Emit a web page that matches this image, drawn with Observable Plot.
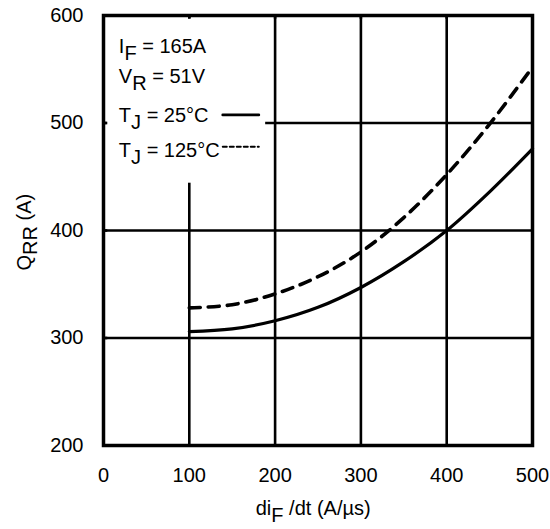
<!DOCTYPE html>
<html><head><meta charset="utf-8">
<script src="https://cdn.jsdelivr.net/npm/d3@7"></script>
<script src="https://cdn.jsdelivr.net/npm/@observablehq/plot@0.6"></script>
<style>
body{margin:0;background:#fff;}
svg text{font-family:"Liberation Sans",Arial,Helvetica,sans-serif;}
</style>
</head><body><div id="chart"></div>
<script>
// data
const diF = [100, 150, 200, 250, 300, 350, 400, 450, 500];
const qrr25 = [306, 308.5, 316, 328.5, 347, 371, 400, 436, 476];
const qrr125 = [328, 331, 341, 357, 380, 412, 452, 499, 552];
const xTicks = [0, 100, 200, 300, 400, 500];
const yTicks = [200, 300, 400, 500, 600];
const gridX = [100, 200, 300, 400];
const gridY = [300, 400, 500];
const legendMain = ["I", "V", "T", "T"];
const legendSub = ["F", "R", "J", "J"];
const legendRest = [" = 165A", " = 51V", " = 25°C", " = 125°C"];
const legendY = [565, 536.5, 500.5, 468];   // baselines in data units
const legendBox = {x1: 4, x2: 189, y1: 444, y2: 597};
const legendLineX = [139, 181];
const legendLineY25 = 507.5, legendLineY125 = 478;

const s25 = diF.map((d, i) => ({x: d, y: qrr25[i]}));
const s125 = diF.map((d, i) => ({x: d, y: qrr125[i]}));

const plot = Plot.plot({
  width: 550, height: 529,
  marginLeft: 103, marginRight: 18, marginTop: 15, marginBottom: 84,
  style: {fontSize: "20px", fontFamily: "'Liberation Sans', Arial, sans-serif", color: "#000", background: "#fff"},
  x: {domain: [0, 500]},
  y: {domain: [200, 600]},
  marks: [
    Plot.ruleX(gridX, {stroke: "#000", strokeWidth: 2.6, strokeOpacity: 1}),
    Plot.ruleY(gridY, {stroke: "#000", strokeWidth: 2.6, strokeOpacity: 1}),
    Plot.rect([legendBox], {x1: "x1", x2: "x2", y1: "y1", y2: "y2", fill: "#fff"}),
    Plot.ruleX(gridX, {y1: 600, y2: 596.5, stroke: "#000", strokeWidth: 2.6}),
    Plot.ruleY(gridY, {x1: 0, x2: 5, stroke: "#000", strokeWidth: 2.6}),
    Plot.line(s25, {x: "x", y: "y", stroke: "#000", strokeWidth: 3.2, curve: "catmull-rom"}),
    Plot.line(s125, {x: "x", y: "y", stroke: "#000", strokeWidth: 3.6, strokeDasharray: "11,8", curve: "catmull-rom"}),
    Plot.line([{x: legendLineX[0], y: legendLineY25}, {x: legendLineX[1], y: legendLineY25}], {x: "x", y: "y", stroke: "#000", strokeWidth: 2.8}),
    Plot.line([{x: legendLineX[0], y: legendLineY125}, {x: legendLineX[1], y: legendLineY125}], {x: "x", y: "y", stroke: "#000", strokeWidth: 2, strokeDasharray: "4,3"}),
    Plot.frame({stroke: "#000", strokeWidth: 3.5}),
    Plot.axisX(xTicks, {tickSize: 0, tickPadding: 22, label: null}),
    Plot.axisY(yTicks, {tickSize: 0, tickPadding: 20, label: null})
  ]
});
document.getElementById("chart").appendChild(plot);

const sx = plot.scale("x"), sy = plot.scale("y");
const svg = d3.select(plot);
const g = svg.append("g").attr("fill", "#000").style("font-size", "20px");

// legend texts
legendMain.forEach((m, i) => {
  const t = g.append("text").attr("text-anchor", "start").attr("x", sx.apply(18.5)).attr("y", sy.apply(legendY[i]));
  t.append("tspan").text(m);
  t.append("tspan").attr("dy", 7).text(legendSub[i]);
  t.append("tspan").attr("dy", -7).text(legendRest[i]);
});

// x axis title
const xt = g.append("text").attr("x", sx.apply(245)).attr("y", 515).attr("text-anchor", "middle");
xt.append("tspan").text("di");
xt.append("tspan").attr("dy", 7).text("F");
xt.append("tspan").attr("dy", -7).text(" /dt (A/µs)");

// y axis title
const yt = g.append("text").attr("transform", `translate(31,${sy.apply(398)}) rotate(-90)`).attr("text-anchor", "middle");
yt.append("tspan").text("Q");
yt.append("tspan").attr("dy", 6).text("RR");
yt.append("tspan").attr("dy", -6).text(" (A)");
</script>
</body></html>
